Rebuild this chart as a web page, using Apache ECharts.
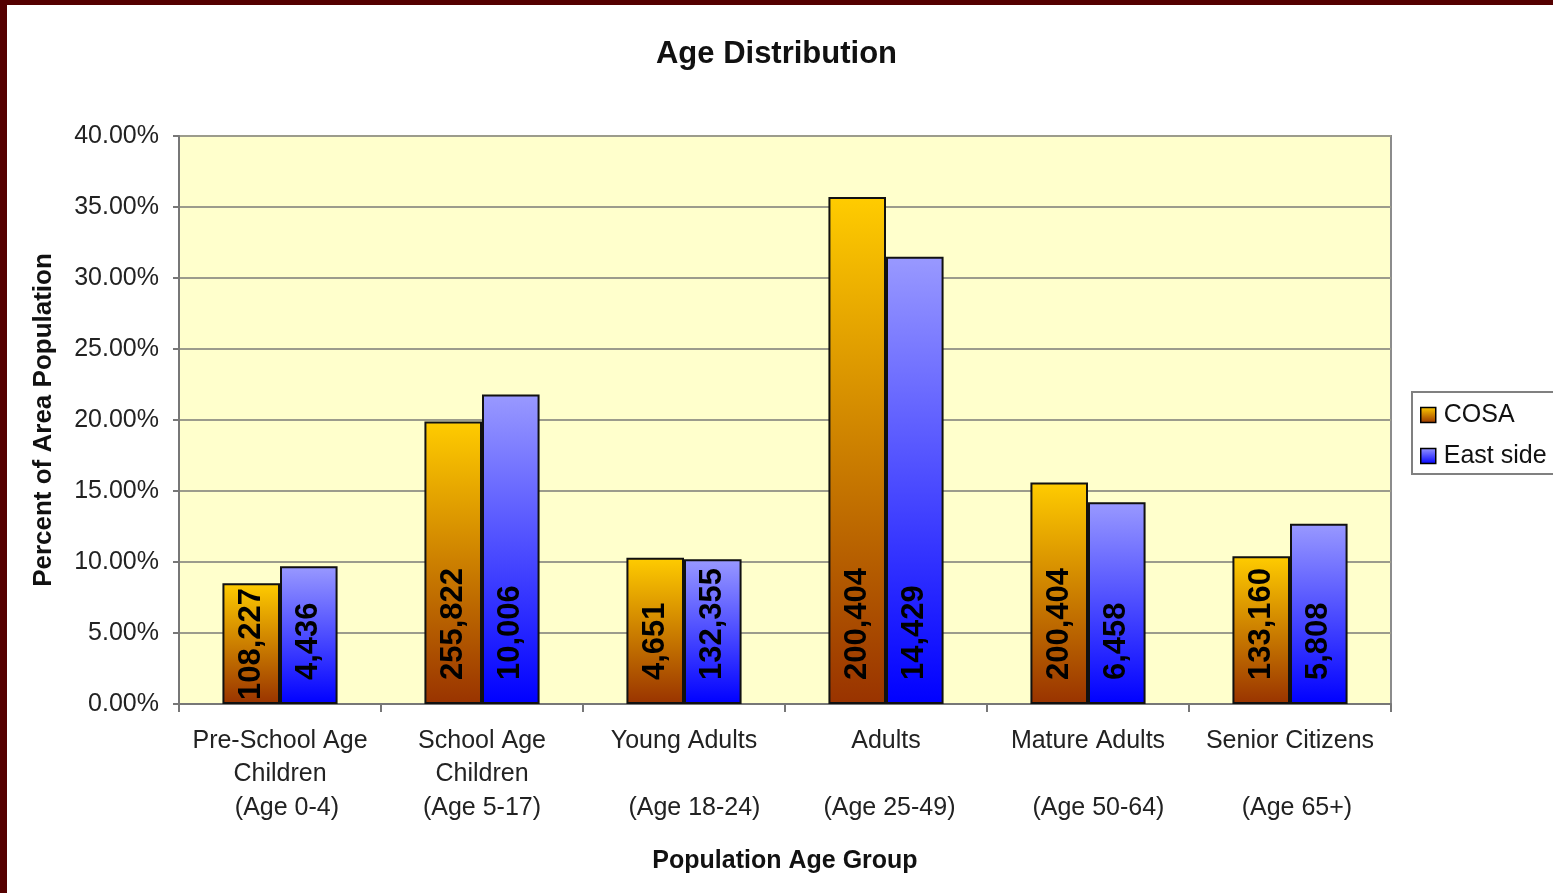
<!DOCTYPE html>
<html>
<head>
<meta charset="utf-8">
<title>Age Distribution</title>
<script src="https://cdn.jsdelivr.net/npm/echarts@6/dist/echarts.min.js"></script>
<style>
  html, body { margin: 0; padding: 0; background: #ffffff; }
  #chart { width: 1553px; height: 893px; }
</style>
</head>
<body>
<div id="chart"></div>
<script>
// Age groups (two-line name, blank or wrapped line, then the age range)
const categories = [
  'Pre-School Age\nChildren\n  (Age 0-4)',
  'School Age\nChildren\n(Age 5-17)',
  'Young Adults\n\n   (Age 18-24)',
  'Adults\n\n (Age 25-49)',
  'Mature Adults\n\n   (Age 50-64)',
  'Senior Citizens\n\n  (Age 65+)'
];

// Share of the area population, in percent
const cosaPercent = [8.5, 19.9, 10.3, 35.7, 15.6, 10.4];
const eastPercent = [9.7, 21.8, 10.2, 31.5, 14.2, 12.7];

// Head counts printed inside each bar
const cosaCounts = ['108,227', '255,822', '4,651', '200,404', '200,404', '133,160'];
const eastCounts = ['4,436', '10,006', '132,355', '14,429', '6,458', '5,808'];

// Value axis ticks
const yMin = 0, yMax = 40, yStep = 5;

const FONT = '"Liberation Sans", Arial, Helvetica, sans-serif';

function grad(top, bottom) {
  return new echarts.graphic.LinearGradient(0, 0, 0, 1, [
    { offset: 0, color: top },
    { offset: 1, color: bottom }
  ]);
}

const cosaFill = grad('#FFCC00', '#993300');
const eastFill = grad('#9999FF', '#0000FF');

// Count labels sit a little above the bar base; a short bar gets its label pushed down
function buildData(values, counts) {
  return values.map((v, i) => ({
    value: v,
    label: { formatter: counts[i], distance: v < 9 ? 4 : 24 }
  }));
}

const barLabel = {
  show: true,
  position: 'insideBottom',
  rotate: 90,
  align: 'left',
  verticalAlign: 'middle',
  fontFamily: FONT,
  fontWeight: 'bold',
  fontSize: 31,
  color: '#000'
};

const chart = echarts.init(document.getElementById('chart'), null, { renderer: 'canvas' });

chart.setOption({
  backgroundColor: '#ffffff',
  animation: false,
  title: {
    text: 'Age Distribution',
    left: 'center',
    top: 34,
    textStyle: { fontFamily: FONT, fontSize: 31, fontWeight: 'bold', color: '#111' }
  },
  legend: {
    orient: 'vertical',
    left: 1412,
    top: 392,
    padding: [10, 40, 5, 8],
    itemGap: 15,
    itemWidth: 15,
    itemHeight: 15,
    icon: 'rect',
    borderColor: '#808080',
    borderWidth: 2,
    backgroundColor: '#ffffff',
    itemStyle: { borderColor: '#000', borderWidth: 1.5 },
    textStyle: { fontFamily: FONT, fontSize: 25, color: '#111', lineHeight: 26, padding: [0, 0, 0, 3] },
    data: ['COSA', 'East side']
  },
  grid: {
    left: 179,
    right: 162,
    top: 136,
    bottom: 189,
    show: true,
    backgroundColor: '#FFFFCC',
    borderColor: '#8c8c8c',
    borderWidth: 2
  },
  xAxis: {
    type: 'category',
    data: categories,
    name: 'Population Age Group',
    nameLocation: 'middle',
    nameGap: 145,
    nameTextStyle: { fontFamily: FONT, fontSize: 25, fontWeight: 'bold', color: '#111' },
    axisLine: { show: true, lineStyle: { color: '#777', width: 2 } },
    axisTick: { show: true, length: 8, lineStyle: { color: '#777', width: 2 } },
    axisLabel: {
      interval: 0,
      margin: 20,
      fontFamily: FONT,
      fontSize: 25,
      lineHeight: 33.5,
      color: '#222'
    }
  },
  yAxis: {
    type: 'value',
    min: yMin,
    max: yMax,
    interval: yStep,
    name: 'Percent of Area Population',
    nameLocation: 'middle',
    nameGap: 122,
    nameTextStyle: { fontFamily: FONT, fontSize: 26, fontWeight: 'bold', color: '#111' },
    axisLine: { show: true, lineStyle: { color: '#777', width: 2 } },
    axisTick: { show: true, length: 6, lineStyle: { color: '#777', width: 2 } },
    axisLabel: {
      margin: 20,
      fontFamily: FONT,
      fontSize: 25,
      color: '#222',
      padding: [4, 0, 0, 0],
      formatter: v => v.toFixed(2) + '%'
    },
    splitLine: { show: true, lineStyle: { color: '#9c9c8c', width: 2 } }
  },
  series: [
    {
      name: 'COSA',
      type: 'bar',
      barGap: '0%',
      barCategoryGap: '43%',
      data: buildData(cosaPercent, cosaCounts),
      itemStyle: { color: cosaFill, borderColor: '#111', borderWidth: 2 },
      label: barLabel
    },
    {
      name: 'East side',
      type: 'bar',
      data: buildData(eastPercent, eastCounts),
      itemStyle: { color: eastFill, borderColor: '#111', borderWidth: 2 },
      label: barLabel
    }
  ],
  graphic: [
    { type: 'rect', left: 0, top: 0, shape: { width: 7, height: 893 }, style: { fill: '#550000' }, z: 100 },
    { type: 'rect', left: 0, top: 0, shape: { width: 1553, height: 5 }, style: { fill: '#550000' }, z: 100 }
  ]
});
</script>
</body>
</html>
